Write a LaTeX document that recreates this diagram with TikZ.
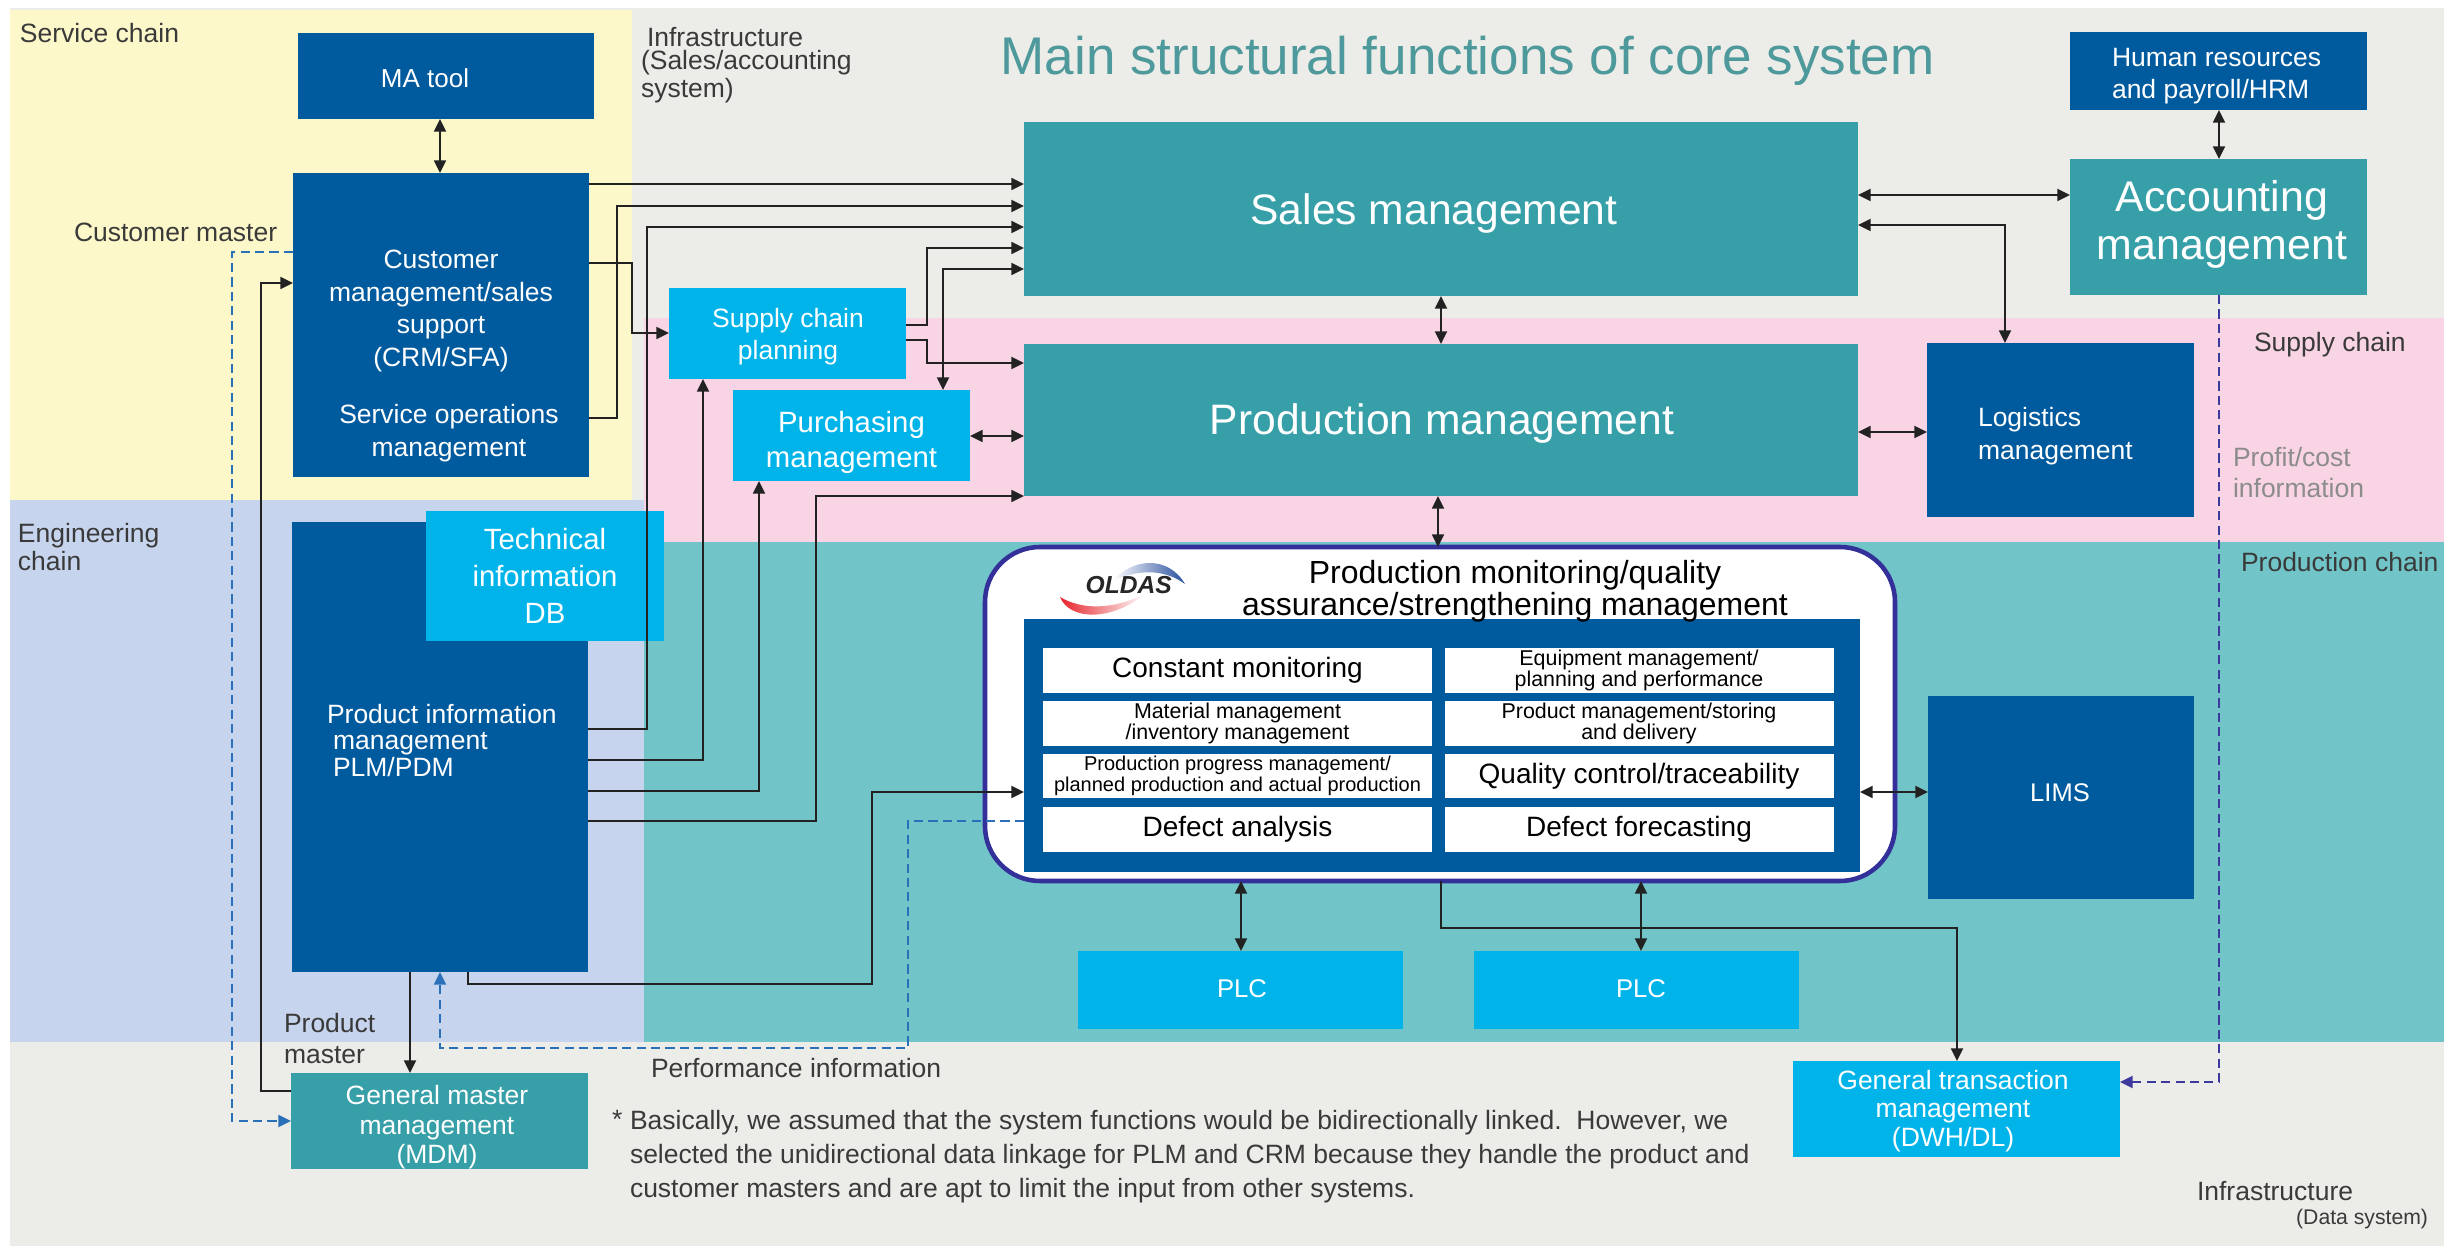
\documentclass[tikz,border=0pt]{standalone}
\usepackage{fontspec}
\setmainfont{Liberation Sans}
\usetikzlibrary{arrows.meta,fit}
\definecolor{bggray}{HTML}{ECECE8}
\definecolor{ylw}{HTML}{FDF8C9}
\definecolor{pnk}{HTML}{F8D4E4}
\definecolor{engb}{HTML}{C7D4EE}
\definecolor{tealbg}{HTML}{71C4C7}
\definecolor{dblue}{HTML}{005A9E}
\definecolor{tbox}{HTML}{379FA8}
\definecolor{lblue}{HTML}{00B4EA}
\definecolor{ttl}{HTML}{4E999B}
\definecolor{txt}{HTML}{3A3A3A}
\definecolor{linec}{HTML}{222222}
\definecolor{dashb}{HTML}{2A70B8}
\definecolor{dashi}{HTML}{3D3A9E}
\definecolor{oborder}{HTML}{34309A}
\definecolor{pgray}{HTML}{8C8C8C}
\definecolor{swblue}{HTML}{28509F}
\definecolor{swred}{HTML}{E6232A}
\newcommand\fsz[2]{\fontsize{#1pt}{#2pt}\selectfont}
\begin{document}
\begin{tikzpicture}[x=0.1mm,y=-0.1mm,
  bx/.style={inner sep=0pt,outer sep=0pt},
  lab/.style={inner sep=0pt,outer sep=0pt,text=txt,font=\fsz{7.54}{9.25}},
  wt/.style={inner sep=0pt,outer sep=0pt,text=white},
  cell/.style={bx,fill=white,text=black,align=center,minimum width=38.9mm,minimum height=4.5mm},
  >={Triangle[length=3.6pt,width=3.4pt]},
  ln/.style={line width=0.55pt,draw=linec},
  arr/.style={ln,->},
  barr/.style={ln,<->},
  dsh/.style={line width=0.6pt,dash pattern=on 2.6pt off 1.5pt,->}
]
\useasboundingbox (0,0) rectangle (2457,1247);
% backgrounds
\fill[white] (0,0) rectangle (2457,1247);
\fill[bggray] (10,8) rectangle (2444,1246);
\fill[ylw] (10,10) rectangle (632,500);
\fill[engb] (10,500) rectangle (644,1042);
\fill[pnk] (644,318) rectangle (2444,542);
\fill[tealbg] (644,542) rectangle (2444,1042);

% boxes
\node[bx,fill=dblue,fit={(298,33)(594,119)}] (ma) {};
\node[bx,fill=dblue,fit={(293,173)(589,477)}] (crm) {};
\node[bx,fill=dblue,fit={(292,522)(588,972)}] (plm) {};
\node[bx,fill=lblue,fit={(426,511)(664,641)}] (tdb) {};
\node[bx,fill=tbox,fit={(291,1073)(588,1169)}] (mdm) {};
\node[bx,fill=lblue,fit={(669,288)(906,379)}] (scp) {};
\node[bx,fill=lblue,fit={(733,390)(970,481)}] (pur) {};
\node[bx,fill=tbox,fit={(1024,122)(1858,296)}] (sales) {};
\node[bx,fill=tbox,fit={(1024,344)(1858,496)}] (prod) {};
\node[bx,fill=dblue,fit={(2070,32)(2367,110)}] (hr) {};
\node[bx,fill=tbox,fit={(2070,159)(2367,295)}] (acc) {};
\node[bx,fill=dblue,fit={(1927,343)(2194,517)}] (logi) {};
\node[bx,fill=dblue,fit={(1928,696)(2194,899)}] (lims) {};
\node[bx,fill=lblue,fit={(1078,951)(1403,1029)}] (plcA) {};
\node[bx,fill=lblue,fit={(1474,951)(1799,1029)}] (plcB) {};
\node[bx,fill=lblue,fit={(1793,1061)(2120,1157)}] (gtm) {};
\node[bx,fill=white,draw=oborder,line width=1.3pt,rounded corners=5.5mm,fit={(985,547)(1895,881)}] (old) {};
\node[bx,fill=dblue,fit={(1024,619)(1860,872)}] (oin) {};

% cells
\node[cell,font=\fsz{7.97}{9}] (c1) at (1237.5,670.5) {Constant monitoring};
\node[cell,font=\fsz{6.09}{6}] (c2) at (1639,670.5) {Equipment management/\\planning and performance};
\node[cell,font=\fsz{6.09}{6}] (c3) at (1237.5,723.5) {Material management\\/inventory management};
\node[cell,font=\fsz{6.09}{6}] (c4) at (1639,723.5) {Product management/storing\\and delivery};
\node[cell,font=\fsz{5.69}{6},minimum height=4.4mm] (c5) at (1237.5,776) {Production progress management/\\planned production and actual production};
\node[cell,font=\fsz{7.97}{9},minimum height=4.4mm] (c6) at (1639,776) {Quality control/traceability};
\node[cell,font=\fsz{7.97}{9}] (c7) at (1237.5,829.5) {Defect analysis};
\node[cell,font=\fsz{7.97}{9}] (c8) at (1639,829.5) {Defect forecasting};

% OLDAS logo
\shade[left color=white,right color=swblue] (1113,581) .. controls (1132,558) and (1168,555) .. (1185,584) .. controls (1166,570) and (1140,568) .. (1113,581) -- cycle;
\shade[left color=swred,right color=white] (1060,597) .. controls (1070,621) and (1112,621) .. (1145,594) .. controls (1112,610) and (1082,610) .. (1060,597) -- cycle;
\node[inner sep=0,anchor=base west,font=\fsz{7}{8}\bfseries\itshape,text=black!85] (tlogo) at (1085,594) {OLDAS};

% texts
\node[lab,anchor=base west] (l1) at (20,43) {Service chain};
\node[lab,anchor=north west,align=left,font=\fsz{7.54}{6.5}] (l2) at (641,27) {\hspace*{0.6mm}Infrastructure\\(Sales/accounting\\system)};
\node[wt,anchor=base,font=\fsz{7.4}{9}] (tma) at (425,88) {MA tool};
\node[lab,anchor=base west] (l3) at (74,242) {Customer master};
\node[wt,anchor=north,align=center,font=\fsz{7.54}{9.25}] (tcrm) at (441,250) {Customer\\management/sales\\support\\(CRM/SFA)};
\node[wt,anchor=north,align=center,font=\fsz{7.54}{9.4}] (tso) at (449,404) {Service operations\\management};
\node[wt,anchor=north,align=center,font=\fsz{7.54}{9.1}] (tscp) at (788,308) {Supply chain\\planning};
\node[wt,anchor=north,align=center,font=\fsz{8.34}{10.1}] (tpur) at (851.5,411) {Purchasing\\management};
\node[wt,anchor=north,align=center,font=\fsz{8.34}{10.5}] (ttdb) at (545,528) {Technical\\information\\DB};
\node[wt,anchor=north west,align=left,font=\fsz{7.54}{7.6}] (tplm) at (327,704) {Product information\\\hspace*{0.6mm}management\\\hspace*{0.6mm}PLM/PDM};
\node[lab,anchor=north west,align=left,font=\fsz{7.54}{6.55}] (l4) at (18,523) {Engineering\\chain};
\node[wt,anchor=north,align=center,font=\fsz{7.54}{8.5}] (tmdm) at (437,1085) {General master\\management\\(MDM)};
\node[lab,anchor=north west,align=left,font=\fsz{7.54}{8.8}] (l5) at (284,1013) {Product\\master};
\node[lab,anchor=base west] (l6) at (651,1078) {Performance information};
\node[lab,anchor=base west] (l7) at (612,1128) {*};
\node[lab,anchor=north west,align=left,font=\fsz{7.54}{9.67}] (l8) at (630,1110) {Basically, we assumed that the system functions would be bidirectionally linked.\ \ However, we\\selected the unidirectional data linkage for PLM and CRM because they handle the product and\\customer masters and are apt to limit the input from other systems.};
\node[anchor=base west,inner sep=0,text=ttl,font=\fsz{15.08}{18}] (title) at (1000,75) {Main structural functions of core system};
\node[wt,anchor=base,font=\fsz{12.12}{14}] (tsales) at (1434,225) {Sales management};
\node[wt,anchor=base,font=\fsz{12.12}{14}] (tprod) at (1442,435) {Production management};
\node[wt,anchor=north west,align=left,font=\fsz{7.54}{9.1}] (thr) at (2112,48) {Human resources\\and payroll/HRM};
\node[wt,anchor=north,align=center,font=\fsz{12.2}{13.8}] (tacc) at (2222,180) {Accounting\\management};
\node[wt,anchor=north west,align=left,font=\fsz{7.54}{9.4}] (tlog) at (1978,407) {Logistics\\management};
\node[lab,anchor=base west] (l9) at (2254,352) {Supply chain};
\node[lab,anchor=north west,align=left,text=pgray,font=\fsz{7.54}{9}] (l10) at (2233,447) {Profit/cost\\information};
\node[lab,anchor=base west] (l11) at (2241,572) {Production chain};
\node[anchor=north,align=center,inner sep=0,text=black,font=\fsz{9.1}{9.1}] (told) at (1515,560) {Production monitoring/quality\\assurance/strengthening management};
\node[wt,anchor=base,font=\fsz{7.26}{9}] (tlims) at (2060,802) {LIMS};
\node[wt,anchor=base,font=\fsz{7.3}{9}] (tplcA) at (1242,998) {PLC};
\node[wt,anchor=base,font=\fsz{7.3}{9}] (tplcB) at (1641,998) {PLC};
\node[wt,anchor=north,align=center,font=\fsz{7.54}{8.1}] (tgtm) at (1953,1070) {General transaction\\management\\(DWH/DL)};
\node[lab,anchor=base west] (l12) at (2197,1200) {Infrastructure};
\node[lab,anchor=base east,font=\fsz{6.03}{7}] (l13) at (2428,1224) {(Data system)};

% connectors
\draw[barr] (440,0 |- ma.south) -- (440,0 |- crm.north);
\draw[arr] (crm.east |- 0,184) -- (sales.west |- 0,184);
\draw[arr] (crm.east |- 0,418) -- (617,418) -- (617,206) -- (sales.west |- 0,206);
\draw[arr] (crm.east |- 0,263) -- (632,263) -- (632,333) -- (scp.west |- 0,333);
\draw[arr] (plm.east |- 0,729) -- (647,729) -- (647,227) -- (sales.west |- 0,227);
\draw[arr] (scp.east |- 0,325) -- (927,325) -- (927,248) -- (sales.west |- 0,248);
\draw[barr] (sales.west |- 0,269) -- (943,269) -- (943,0 |- pur.north);
\draw[arr] (scp.east |- 0,340) -- (927,340) -- (927,363) -- (prod.west |- 0,363);
\draw[barr] (pur.east |- 0,436) -- (prod.west |- 0,436);
\draw[arr] (plm.east |- 0,760) -- (703,760) -- (703,0 |- scp.south);
\draw[arr] (plm.east |- 0,791) -- (759,791) -- (759,0 |- pur.south);
\draw[arr] (plm.east |- 0,821) -- (816,821) -- (816,496) -- (prod.west |- 0,496);
\draw[arr] (468,0 |- plm.south) -- (468,984) -- (872,984) -- (872,792) -- (oin.west |- 0,792);
\draw[arr] (410,0 |- plm.south) -- (410,0 |- mdm.north);
\draw[arr] (mdm.west |- 0,1091) -- (261,1091) -- (261,283) -- (crm.west |- 0,283);
\draw[dsh,draw=dashb] (crm.west |- 0,252) -- (232,252) -- (232,1121) -- (mdm.west |- 0,1121);
\draw[dsh,draw=dashb] (oin.west |- 0,821) -- (908,821) -- (908,1048) -- (440,1048) -- (440,0 |- plm.south);
\draw[barr] (1441,0 |- sales.south) -- (1441,0 |- prod.north);
\draw[barr] (1438,0 |- prod.south) -- (1438,0 |- old.north);
\draw[barr] (sales.east |- 0,195) -- (acc.west |- 0,195);
\draw[barr] (sales.east |- 0,225) -- (2005,225) -- (2005,0 |- logi.north);
\draw[barr] (2219,0 |- hr.south) -- (2219,0 |- acc.north);
\draw[barr] (prod.east |- 0,432) -- (logi.west |- 0,432);
\draw[barr] (oin.east |- 0,792) -- (lims.west |- 0,792);
\draw[barr] (1241,0 |- old.south) -- (1241,0 |- plcA.north);
\draw[barr] (1641,0 |- old.south) -- (1641,0 |- plcB.north);
\draw[arr] (1441,0 |- old.south) -- (1441,928) -- (1957,928) -- (1957,0 |- gtm.north);
\draw[dsh,draw=dashi] (2219,0 |- acc.south) -- (2219,1082) -- (gtm.east |- 0,1082);
\end{tikzpicture}
\end{document}
